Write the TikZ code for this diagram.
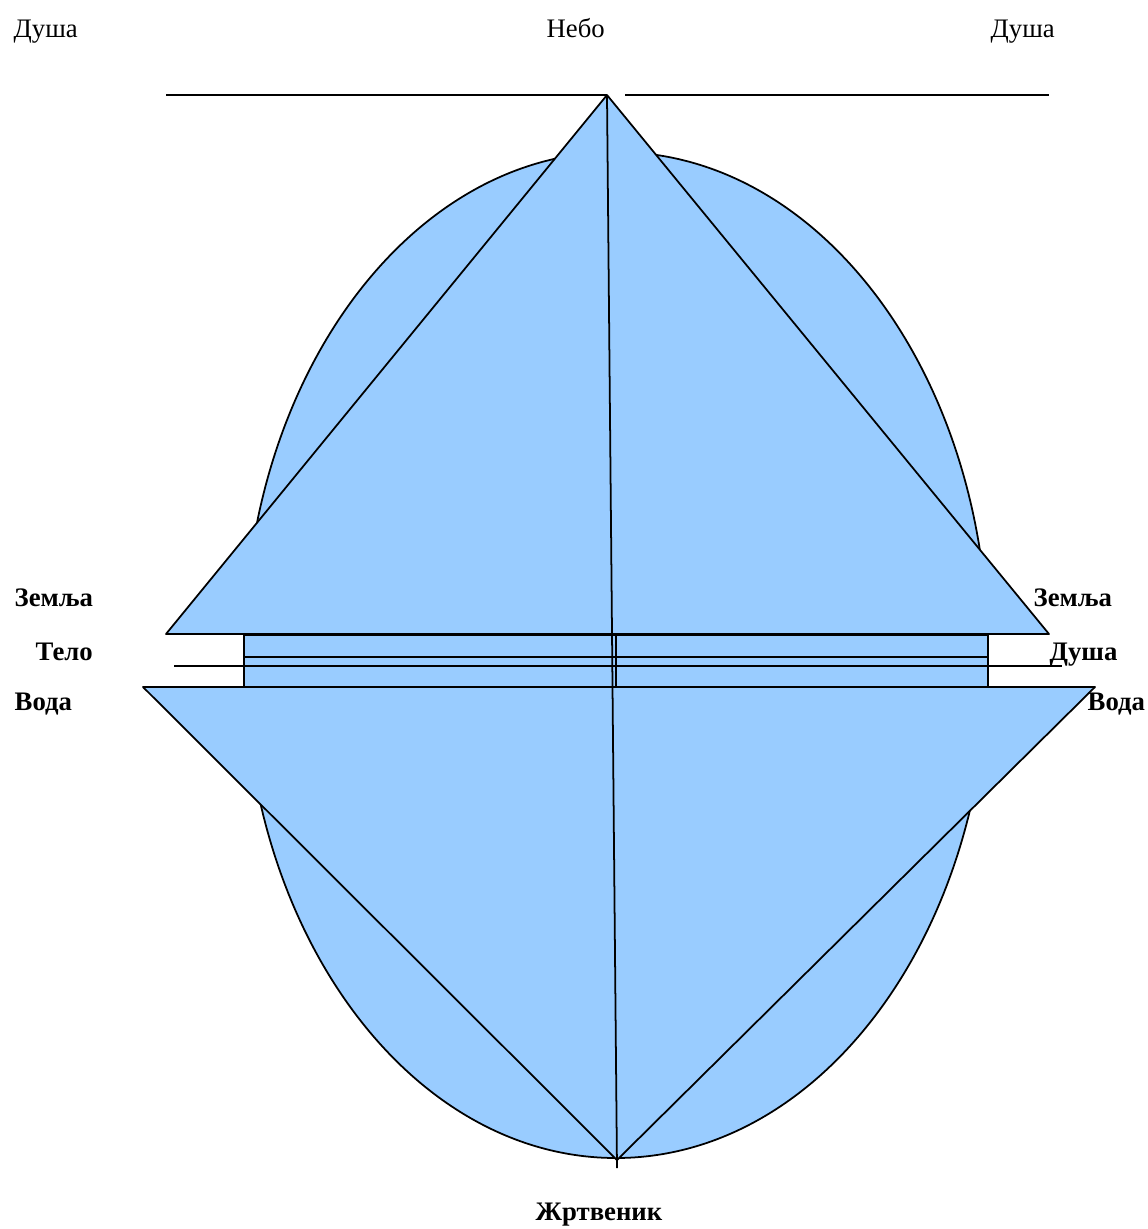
\documentclass[tikz,border=0pt]{standalone}
\usepackage{fontspec}
\setmainfont{Liberation Serif}
\definecolor{skyfill}{HTML}{99CCFF}
\tikzset{
  plain/.style={font=\fontsize{7.6}{9}\selectfont, anchor=base west, inner sep=0pt},
  heavy/.style={plain, font=\fontsize{7.6}{9}\selectfont\bfseries},
  piece/.style={fill=skyfill, draw=black, line width=0.5pt, line join=round},
  thin/.style={draw=black, line width=0.5pt}
}
\begin{document}
\begin{tikzpicture}[x=0.01cm, y=-0.01cm]

            \useasboundingbox (0,0) rectangle (1147,1229);

            % main points
            \coordinate (apex) at (607,95);
            \coordinate (foot) at (617,1160);
            \coordinate (stem) at (617,1168);

            \fill[skyfill] (616,655) ellipse [x radius=372, y radius=503];
            \draw[thin] (616,655) ellipse [x radius=372, y radius=503];

            % middle band
            \draw[piece] (244,635) rectangle (988,687);

            % upper and lower triangles
            \draw[piece] (apex) -- (1049,634) -- (166,634) -- cycle;
            \draw[piece] (143,687) -- (1095,687) -- (foot) -- cycle;

            \draw[thin] (166,95) -- (apex);
            \draw[thin] (625,95) -- (1049,95);
            \draw[thin] (apex) -- (stem);
            \draw[thin] (616,635) -- (616,687);
            \draw[thin] (244,656.7) -- (988,656.7);
            \draw[thin] (174,665.7) -- (1062,665.7);

            \node[plain] (soulL) at (13,37) {Душа};
            \node[plain] (sky) at (546,37) {Небо};
            \node[plain] (soulR) at (990,37) {Душа};

            \node[heavy] (earthL) at (14,606) {Земља};
            \node[heavy] (body) at (35,660) {Тело};
            \node[heavy] (waterL) at (14,710) {Вода};
            \node[heavy] (earthR) at (1033,606) {Земља};
            \node[heavy] (soulM) at (1049,660) {Душа};
            \node[heavy] (waterR) at (1087,710) {Вода};
            \node[heavy] (altar) at (535,1220) {Жртвеник};

        \end{tikzpicture}
\end{document}
